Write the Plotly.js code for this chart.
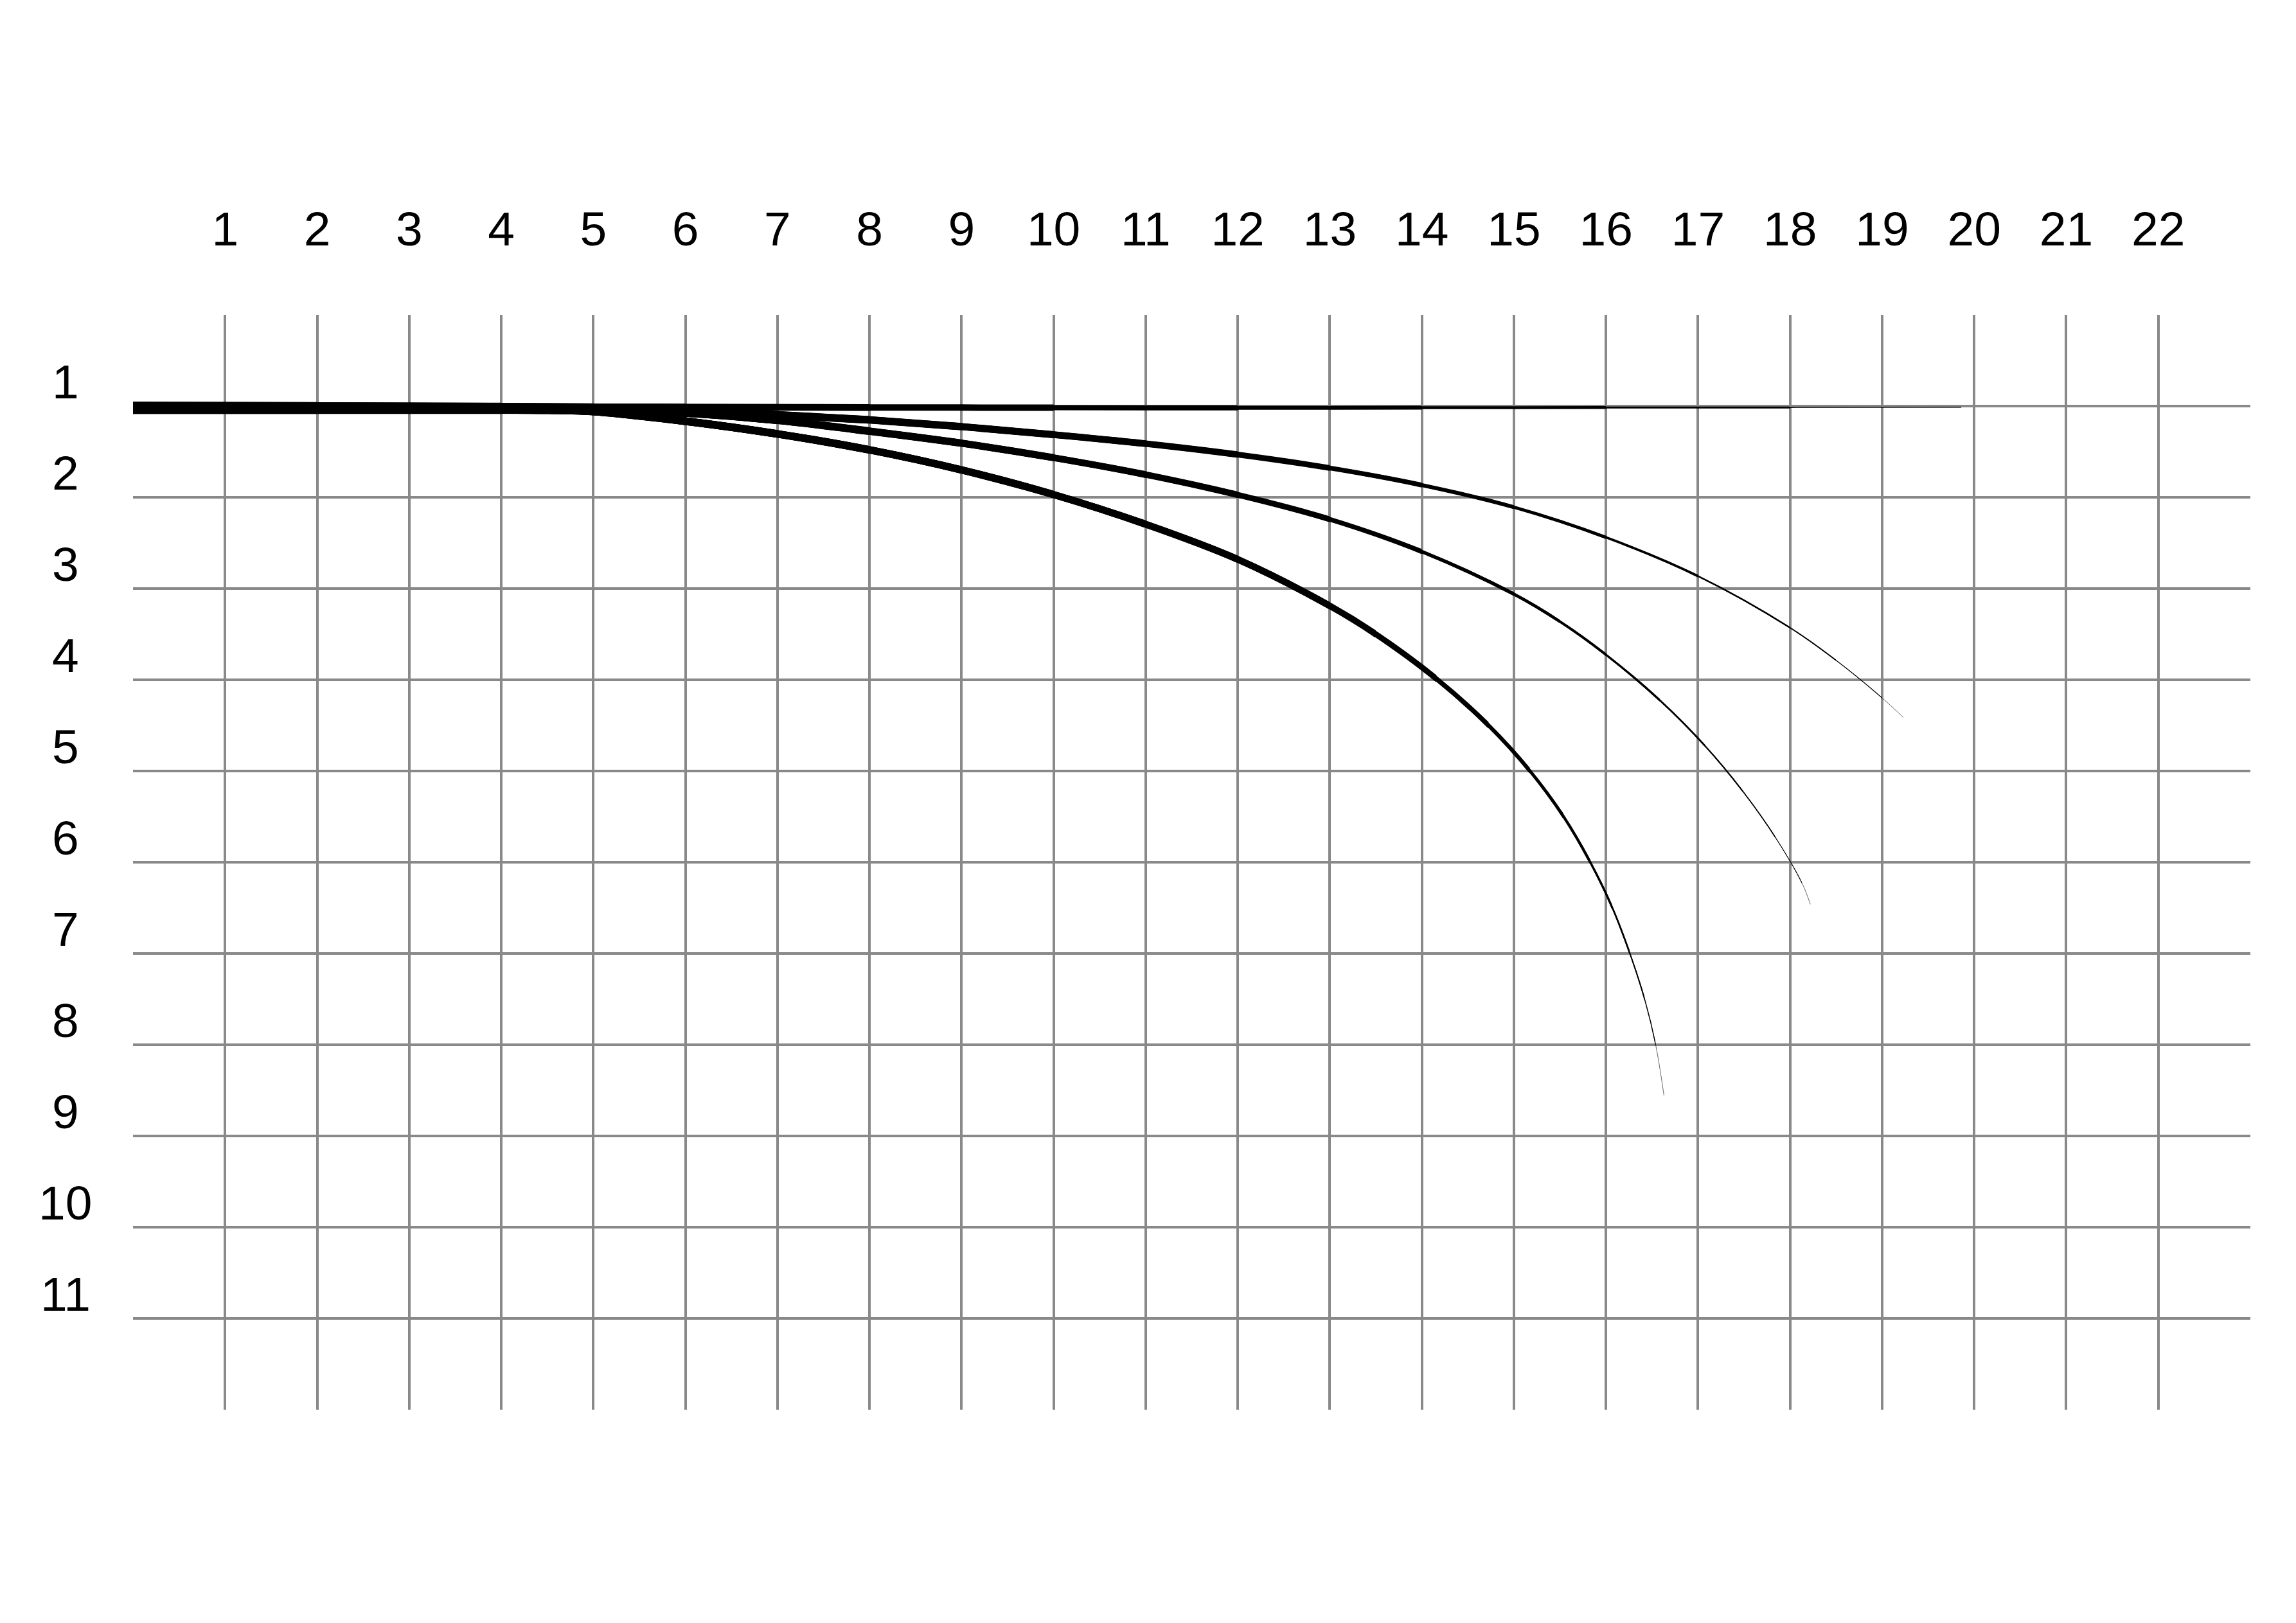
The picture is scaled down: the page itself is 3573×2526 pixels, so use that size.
<!DOCTYPE html>
<html>
<head>
<meta charset="utf-8">
<script src="https://cdn.plot.ly/plotly-3.0.1.min.js"></script>
<style>
  html, body { margin: 0; padding: 0; background: #ffffff; }
  #chart { width: 3573px; height: 2526px; }
</style>
</head>
<body>
<div id="chart"></div>
<script>
// ---- data ----
const xTickVals = [1,2,3,4,5,6,7,8,9,10,11,12,13,14,15,16,17,18,19,20,21,22];
const xTickText = ["1","2","3","4","5","6","7","8","9","10","11","12","13","14","15","16","17","18","19","20","21","22"];
const yTickVals = [1,2,3,4,5,6,7,8,9,10,11];
const yTickText = ["1","2","3","4","5","6","7","8","9","10","11"];

// flat line
const flatX = [0, 2, 4, 5, 6, 8, 10, 12, 14, 16, 18, 19.86];
const flatY = [0.995, 1.0, 1.005, 1.01, 1.012, 1.015, 1.018, 1.02, 1.018, 1.016, 1.015, 1.012];

// curve ending near x = 19.2
const curveAX = [0, 2, 4, 5, 6, 7, 8, 9, 10, 11, 12, 13, 14, 15, 16, 17, 18, 18.5, 19, 19.23];
const curveAY = [1.04, 1.04, 1.04, 1.042, 1.058, 1.096, 1.152, 1.225, 1.313, 1.412, 1.532, 1.679, 1.866, 2.108, 2.439, 2.864, 3.43, 3.787, 4.199, 4.413];

// curve ending near x = 18.2
const curveBX = [0, 2, 4, 5, 6, 7, 8, 9, 10, 11, 12, 13, 14, 15, 15.5, 16, 16.586, 17.077, 17.489, 17.839, 18.128, 18.22];
const curveBY = [1.04, 1.04, 1.04, 1.045, 1.075, 1.156, 1.275, 1.407, 1.566, 1.751, 1.973, 2.241, 2.595, 3.061, 3.362, 3.725, 4.225, 4.725, 5.225, 5.725, 6.225, 6.46];

// curve ending near x = 16.6
const curveCX = [0, 2, 4, 4.5, 5, 6, 7, 8, 9, 10, 11, 12, 13, 13.5, 14.16, 14.725, 15.175, 15.54, 15.83, 16.07, 16.26, 16.42, 16.54, 16.63];
const curveCY = [1.04, 1.04, 1.04, 1.043, 1.058, 1.165, 1.305, 1.48, 1.70, 1.97, 2.295, 2.68, 3.19, 3.50, 3.99, 4.5, 5.0, 5.5, 6.0, 6.5, 7.0, 7.5, 8.0, 8.556];

// ---- styles (stroke width reached at each point, px) ----
const flatW   = [13, 12.5, 12, 11.5, 11, 10.5, 10, 8, 6, 4.5, 3, 1.5];
const curveAW = [13, 13, 13, 12.5, 12.5, 12, 12, 11.5, 11, 10.5, 10, 9, 7.5, 6.2, 5, 3.8, 2.5, 1.8, 1.1, 0.6];
const curveBW = [13, 13, 13, 12.5, 12.5, 12, 12, 11.5, 11, 10.5, 10, 9, 7.5, 5.5, 4.7, 4, 3.3, 2.7, 2.1, 1.6, 1.1, 0.6];
const curveCW = [13, 13, 13, 13, 12.5, 12.5, 12, 12, 11.5, 11.5, 11, 11, 10.5, 10, 9, 7.5, 6, 5, 4.2, 3.4, 2.7, 2, 1.4, 0.6];

const X_MAX = 23, Y_MAX = 12;
const FIG_W = 3573, FIG_H = 2526;
const MARGIN = {l: 207, r: 71, t: 490, b: 332, pad: 0};
const PLOT_H = FIG_H - MARGIN.t - MARGIN.b;
const PX_PER_Y = PLOT_H / Y_MAX;

const curves = [
  {x: flatX,   y: flatY,   w: flatW,   clipY: false},
  {x: curveAX, y: curveAY, w: curveAW, clipY: true},
  {x: curveBX, y: curveBY, w: curveBW, clipY: true},
  {x: curveCX, y: curveCY, w: curveCW, clipY: true}
];

const FONT = 'Liberation Sans, Arial, sans-serif';

const layout = {
  width: FIG_W,
  height: FIG_H,
  margin: MARGIN,
  paper_bgcolor: '#ffffff',
  plot_bgcolor: 'rgba(0,0,0,0)',
  showlegend: false,
  font: {family: FONT, color: '#000000'},
  xaxis: {
    side: 'top',
    range: [0, X_MAX],
    tickmode: 'array',
    tickvals: xTickVals,
    ticktext: xTickText,
    ticks: '',
    showgrid: true,
    gridcolor: '#898989',
    gridwidth: 4,
    zeroline: false,
    showline: false,
    ticklabelstandoff: 92,
    tickfont: {family: FONT, size: 75, color: '#000000'},
    fixedrange: true
  },
  yaxis: {
    range: [Y_MAX, 0],
    tickmode: 'array',
    tickvals: yTickVals,
    ticktext: yTickText,
    showticklabels: false,
    ticks: '',
    showgrid: true,
    gridcolor: '#898989',
    gridwidth: 4,
    zeroline: false,
    showline: false,
    fixedrange: true
  },
  annotations: yTickVals.map((v, i) => ({
    xref: 'paper', yref: 'y',
    x: -0.0319, y: v,
    xanchor: 'center', yanchor: 'middle',
    yshift: 38,
    text: yTickText[i],
    showarrow: false,
    font: {family: FONT, size: 75, color: '#000000'}
  }))
};

// Tapered strokes: the whole curve is drawn several times, each copy in a
// hidden subplot that shares the main scale but is clipped to end at one
// of the read points, so thicker copies cover only the earlier part.
const lineStyle = w => ({color: '#000000', width: w, shape: 'spline', smoothing: 1, simplify: false});
const traces = [];
let ax = 1;
curves.forEach(c => {
  const n = c.x.length;
  traces.push({
    type: 'scatter', mode: 'lines',
    x: c.x, y: c.y, xaxis: 'x', yaxis: 'y',
    line: lineStyle(c.w[n - 1]),
    hoverinfo: 'skip', showlegend: false
  });
  for (let m = n - 2; m >= 1; m--) {
    ax++;
    const xc = c.x[m];
    const yc = c.clipY ? Math.min(Y_MAX, c.y[m] + (c.w[m] / 2) / PX_PER_Y) : Y_MAX;
    layout['xaxis' + ax] = {
      domain: [0, xc / X_MAX], range: [0, xc], anchor: 'y' + ax,
      visible: false, showgrid: false, zeroline: false, fixedrange: true
    };
    layout['yaxis' + ax] = {
      domain: [1 - yc / Y_MAX, 1], range: [yc, 0], anchor: 'x' + ax,
      visible: false, showgrid: false, zeroline: false, fixedrange: true
    };
    traces.push({
      type: 'scatter', mode: 'lines',
      x: c.x, y: c.y, xaxis: 'x' + ax, yaxis: 'y' + ax,
      line: lineStyle(c.w[m]),
      hoverinfo: 'skip', showlegend: false
    });
  }
});

Plotly.newPlot('chart', traces, layout, {staticPlot: true, displayModeBar: false});
</script>
</body>
</html>
